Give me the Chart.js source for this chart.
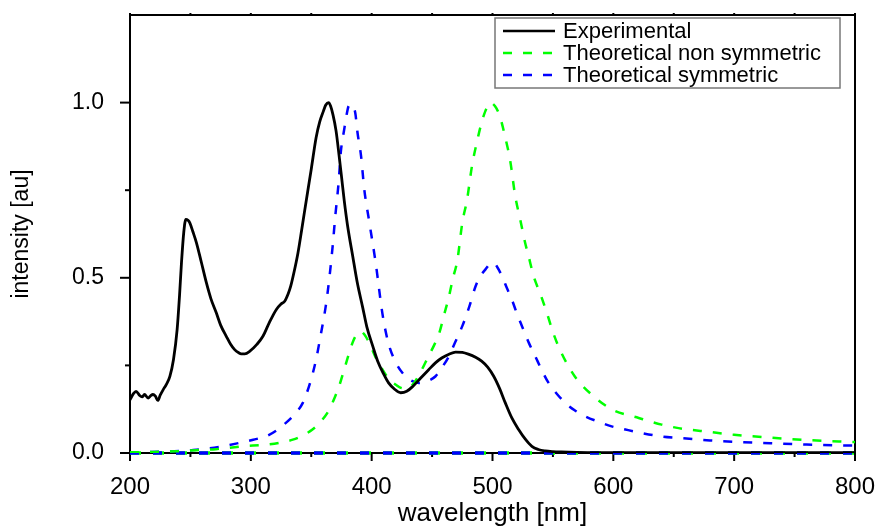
<!DOCTYPE html>
<html lang="en">
<head>
  <meta charset="UTF-8" />
  <title>Intensity vs wavelength</title>
  <script src="https://cdn.jsdelivr.net/npm/chart.js"></script>
  <style>
    body {
      margin: 0;
      background: #fff;
    }
    #wrap {
      width: 880px;
      height: 529px;
    }
  </style>
</head>
<body>

  <div id="wrap"><canvas id="spectrum"></canvas></div>

  <script>
    // experimental spectrum
    const expWl = [200, 203, 205, 208, 210, 212, 215, 217, 219, 221, 223, 225, 227.5, 230, 233, 236, 239, 241, 242.6, 244.5, 246.2, 248, 249.5, 252, 255, 259, 263.2, 267, 271.4, 275, 279.7, 283, 286.6, 290, 292, 295, 299, 305, 310, 315, 321, 325, 328, 331, 333, 336, 339, 342, 344.3, 347, 350, 354, 357, 360, 362, 364.4, 366, 368, 370.5, 373, 375, 377.3, 380, 384.4, 388, 392.6, 396, 400.9, 405, 410, 414, 419, 424, 429, 434, 440, 447, 453, 458, 464, 469.5, 475, 480, 486, 491, 496, 501, 506, 510.6, 516, 521.6, 527, 532.6, 538, 543.6, 550, 557, 570, 600, 650, 700, 750, 800];
    const expVal = [0.152, 0.17, 0.176, 0.164, 0.16, 0.167, 0.157, 0.163, 0.167, 0.162, 0.15, 0.165, 0.181, 0.195, 0.219, 0.267, 0.352, 0.45, 0.543, 0.63, 0.667, 0.664, 0.657, 0.632, 0.6, 0.545, 0.486, 0.44, 0.4, 0.365, 0.333, 0.312, 0.295, 0.286, 0.283, 0.283, 0.29, 0.31, 0.333, 0.37, 0.409, 0.425, 0.433, 0.455, 0.476, 0.52, 0.571, 0.635, 0.686, 0.745, 0.81, 0.9, 0.945, 0.975, 0.993, 1.0, 0.99, 0.965, 0.92, 0.85, 0.79, 0.72, 0.65, 0.56, 0.488, 0.415, 0.36, 0.305, 0.262, 0.225, 0.2, 0.182, 0.172, 0.176, 0.19, 0.212, 0.237, 0.258, 0.271, 0.282, 0.288, 0.287, 0.282, 0.273, 0.262, 0.245, 0.219, 0.183, 0.143, 0.1, 0.067, 0.04, 0.019, 0.01, 0.006, 0.004, 0.003, 0.002, 0.001, 0.001, 0.001, 0.001, 0.001];

    // theoretical, non symmetric
    const nonSymWl = [200, 220, 238.5, 255, 271, 293, 312.7, 325, 334.7, 343, 351, 358, 365, 369, 373, 377, 381.4, 385, 388, 391, 394, 398, 403, 409, 414, 420, 425, 429, 434, 440, 447, 452, 456, 460, 464, 467, 471, 475, 479, 483, 487, 491, 494, 498, 502, 506, 510.6, 514.7, 518.8, 522.9, 527, 530, 534, 540, 545, 550, 557, 568, 582, 599, 621, 640, 654, 680, 700, 730, 760, 800];
    const nonSymVal = [0.002, 0.003, 0.005, 0.008, 0.011, 0.019, 0.024, 0.03, 0.038, 0.05, 0.067, 0.09, 0.124, 0.155, 0.19, 0.235, 0.286, 0.322, 0.34, 0.347, 0.338, 0.314, 0.275, 0.238, 0.212, 0.195, 0.185, 0.184, 0.195, 0.228, 0.276, 0.31, 0.343, 0.395, 0.447, 0.495, 0.552, 0.657, 0.724, 0.819, 0.886, 0.943, 0.975, 1.0, 0.99, 0.962, 0.9, 0.833, 0.733, 0.667, 0.6, 0.56, 0.505, 0.45, 0.4, 0.345, 0.286, 0.219, 0.167, 0.124, 0.1, 0.081, 0.071, 0.06, 0.052, 0.044, 0.037, 0.031];

    // theoretical, symmetric
    const symWl = [200, 230, 255, 275, 290.7, 302, 312.7, 321, 329, 336, 343, 349, 354, 358, 362, 365, 367.7, 370, 372.6, 374.5, 377.3, 379, 380.9, 383, 386.4, 388.3, 391.2, 393.9, 398, 403.3, 408.8, 412, 415, 420, 425.4, 432, 439, 446, 452.9, 458, 463.9, 469, 475, 481, 486, 490, 494.2, 498, 501, 504, 507.8, 512, 516, 520, 524.4, 530, 535.4, 541, 546.4, 553, 560.2, 568, 576.6, 587, 598.6, 610, 620.6, 640, 653.6, 680, 700, 730, 760, 800];
    const symVal = [0.002, 0.004, 0.009, 0.018, 0.029, 0.038, 0.048, 0.064, 0.086, 0.11, 0.143, 0.2, 0.267, 0.34, 0.419, 0.5, 0.59, 0.68, 0.77, 0.86, 0.924, 0.96, 0.99, 0.995, 0.971, 0.914, 0.848, 0.752, 0.66, 0.543, 0.4, 0.34, 0.3, 0.258, 0.229, 0.208, 0.2, 0.205, 0.219, 0.243, 0.276, 0.315, 0.362, 0.42, 0.476, 0.505, 0.524, 0.54, 0.543, 0.53, 0.505, 0.47, 0.438, 0.4, 0.362, 0.315, 0.276, 0.235, 0.2, 0.17, 0.143, 0.122, 0.105, 0.09, 0.076, 0.067, 0.059, 0.047, 0.043, 0.036, 0.032, 0.028, 0.024, 0.021];

    // zero lines of the theoretical curves
    const baseWl = [200, 800];
    const baseVal = [0, 0];

    const xMajor = [200, 300, 400, 500, 600, 700, 800];
    const xMinor = [250, 350, 450, 550, 650, 750];
    const yMajor = [0, 0.5, 1.0];
    const yMinor = [0.25, 0.75];

    const pts = (xs, ys) => xs.map((v, i) => ({ x: v, y: ys[i] }));

    Chart.defaults.font.family = "'Liberation Sans', Arial, sans-serif";
    Chart.defaults.color = '#000';

    const seg = (ctx, x1, y1, x2, y2) => {
      ctx.beginPath();
      ctx.moveTo(x1, y1);
      ctx.lineTo(x2, y2);
      ctx.stroke();
    };

    // axes box and ticks, drawn under the curves
    const framePlugin = {
      id: 'frame',
      beforeDatasetsDraw(chart) {
        const { ctx, chartArea: a, scales: { x, y } } = chart;
        ctx.save();
        ctx.strokeStyle = '#000';
        ctx.lineWidth = 2;
        ctx.strokeRect(a.left, a.top, a.right - a.left, a.bottom - a.top);
        xMajor.forEach(v => {
          const p = x.getPixelForValue(v);
          seg(ctx, p, a.bottom, p, a.bottom + 8);
          seg(ctx, p, a.top, p, a.top - 2);
        });
        xMinor.forEach(v => {
          const p = x.getPixelForValue(v);
          seg(ctx, p, a.bottom, p, a.bottom + 4);
          seg(ctx, p, a.top, p, a.top - 2);
        });
        yMajor.forEach(v => {
          const p = y.getPixelForValue(v);
          seg(ctx, a.left - 10, p, a.left, p);
        });
        yMinor.forEach(v => {
          const p = y.getPixelForValue(v);
          seg(ctx, a.left - 5, p, a.left, p);
        });
        ctx.restore();
      },
      afterDraw(chart) {
        const { ctx } = chart;
        const bx = 495, by = 18, bw = 345, bh = 70;
        ctx.save();
        ctx.fillStyle = '#fff';
        ctx.fillRect(bx, by, bw, bh);
        ctx.strokeStyle = '#777';
        ctx.lineWidth = 1.5;
        ctx.strokeRect(bx, by, bw, bh);
        ctx.font = "22px 'Liberation Sans', Arial, sans-serif";
        ctx.textBaseline = 'middle';
        ctx.fillStyle = '#000';
        chart.data.datasets.filter(d => d.label).forEach((d, i) => {
          const ry = by + 13 + i * 22;
          ctx.strokeStyle = d.borderColor;
          ctx.lineWidth = 2.5;
          ctx.setLineDash(d.borderDash || []);
          seg(ctx, 503, ry, 555, ry);
          ctx.setLineDash([]);
          ctx.fillText(d.label, 563, ry + 1);
        });
        ctx.restore();
      }
    };

    const noPad = s => {
      s.paddingTop = 0;
      s.paddingBottom = 0;
      s.paddingLeft = 0;
      s.paddingRight = 0;
    };

    const ctx = document.getElementById('spectrum').getContext('2d');

    new Chart(ctx, {
      type: 'line',
      data: {
        datasets: [
          {
            label: 'Experimental',
            data: pts(expWl, expVal),
            borderColor: '#000',
            borderWidth: 2.8
          },
          {
            label: 'Theoretical non symmetric',
            data: pts(nonSymWl, nonSymVal),
            borderColor: '#00ff00',
            borderWidth: 2.5,
            borderDash: [9, 11]
          },
          {
            label: 'Theoretical symmetric',
            data: pts(symWl, symVal),
            borderColor: '#0000ff',
            borderWidth: 2.5,
            borderDash: [9, 11]
          },
          {
            data: pts(baseWl, baseVal),
            borderColor: '#0000ff',
            borderWidth: 3.5,
            borderDash: [9, 14],
            clip: false
          },
          {
            data: pts(baseWl, baseVal),
            borderColor: '#00ff00',
            borderWidth: 3.5,
            borderDash: [11, 12],
            clip: false
          }
        ]
      },
      options: {
        responsive: true,
        maintainAspectRatio: false,
        animation: false,
        layout: { padding: { top: 15, right: 25, left: 0, bottom: 0 } },
        elements: {
          point: { radius: 0 },
          line: { tension: 0.3, cubicInterpolationMode: 'monotone' }
        },
        plugins: {
          legend: { display: false },
          tooltip: { enabled: false }
        },
        scales: {
          x: {
            type: 'linear',
            min: 200,
            max: 800,
            grid: { display: false },
            border: { display: false },
            afterFit: s => { s.height = 76; noPad(s); },
            ticks: {
              stepSize: 50,
              padding: 12,
              font: { size: 24 },
              maxRotation: 0,
              callback: v => (v % 100 === 0 ? v : '')
            },
            title: {
              display: true,
              text: 'wavelength [nm]',
              font: { size: 26 },
              padding: { top: 0, bottom: 0 }
            }
          },
          y: {
            min: 0,
            max: 1.25,
            grid: { display: false },
            border: { display: false },
            afterFit: s => { s.width = 130; noPad(s); },
            ticks: {
              stepSize: 0.25,
              padding: 18,
              font: { size: 23 },
              callback: v => (Math.abs(v * 2 - Math.round(v * 2)) < 1e-6 ? v.toFixed(1) : '')
            },
            title: {
              display: true,
              text: 'intensity [au]',
              font: { size: 23 },
              padding: { top: 8, bottom: 0 }
            }
          }
        }
      },
      plugins: [framePlugin]
    });
  </script>

</body>
</html>
